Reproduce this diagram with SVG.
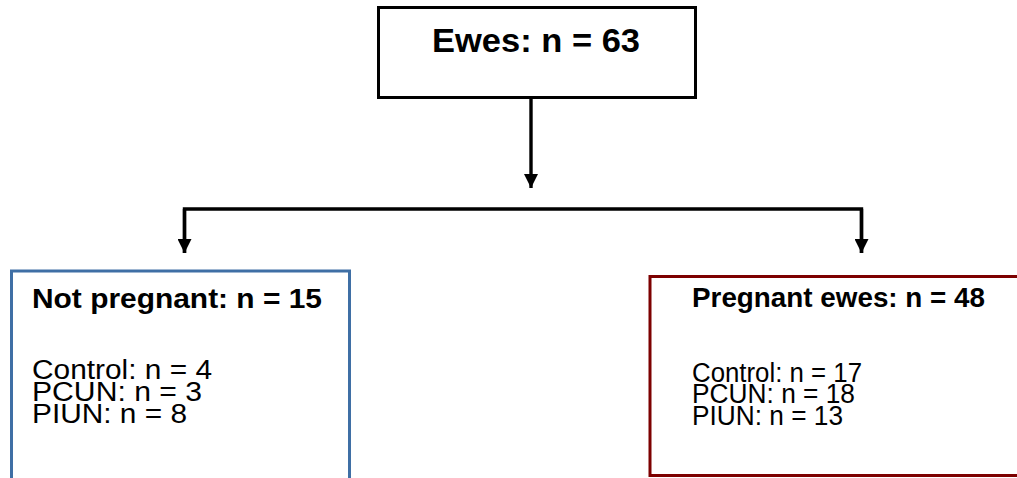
<svg xmlns="http://www.w3.org/2000/svg" width="1017" height="478" viewBox="0 0 1017 478">
  <style>
    .bg { fill: #ffffff; }
    .box { fill: #ffffff; stroke-width: 3; }
    .top { stroke: #000000; }
    .blue { stroke: #3f6fa5; }
    .red { stroke: #7d0000; }
    .title { font-family: "Liberation Sans", Arial, sans-serif; font-weight: bold; fill: #000000; }
    .body { font-family: "Liberation Sans", Arial, sans-serif; font-size: 27px; fill: #000000; }
    .conn { fill: none; stroke: #000000; stroke-width: 3.4; }
  </style>
  <defs>
    <marker id="arrow" viewBox="0 0 14 14" refX="14" refY="7" markerWidth="14" markerHeight="14" markerUnits="userSpaceOnUse" orient="auto">
      <path d="M0,0 L14,7 L0,14 Z" fill="#000000"/>
    </marker>
  </defs>

  <rect class="bg" x="0" y="0" width="1017" height="478"/>

  <g id="connectors">
    <path class="conn" d="M531,97 L531,188" marker-end="url(#arrow)"/>
    <path class="conn" d="M184.5,253 L184.5,209 L861.5,209 L861.5,253"/>
    <path class="conn" d="M184.5,209 L184.5,253" marker-end="url(#arrow)"/>
    <path class="conn" d="M861.5,209 L861.5,253" marker-end="url(#arrow)"/>
  </g>

  <g id="ewes">
    <rect class="box top" x="378.5" y="7.5" width="317" height="90"/>
    <text class="title" x="536" y="52" font-size="33" text-anchor="middle" textLength="208" lengthAdjust="spacingAndGlyphs">Ewes: n = 63</text>
  </g>

  <g id="not-pregnant">
    <rect class="box blue" x="11.5" y="271" width="338" height="220"/>
    <text class="title" x="32" y="308" font-size="28" textLength="290" lengthAdjust="spacingAndGlyphs">Not pregnant: n = 15</text>
    <text class="body" x="32" y="379" textLength="180" lengthAdjust="spacingAndGlyphs">Control: n = 4</text>
    <text class="body" x="32" y="401" textLength="170" lengthAdjust="spacingAndGlyphs">PCUN: n = 3</text>
    <text class="body" x="32" y="423" textLength="155" lengthAdjust="spacingAndGlyphs">PIUN: n = 8</text>
  </g>

  <g id="pregnant">
    <rect class="box red" x="650" y="276.5" width="400" height="199"/>
    <text class="title" x="692" y="307" font-size="28" textLength="293" lengthAdjust="spacingAndGlyphs">Pregnant ewes: n = 48</text>
    <text class="body" x="692" y="382" textLength="170" lengthAdjust="spacingAndGlyphs">Control: n = 17</text>
    <text class="body" x="692" y="403" textLength="163" lengthAdjust="spacingAndGlyphs">PCUN: n = 18</text>
    <text class="body" x="692" y="425" textLength="151" lengthAdjust="spacingAndGlyphs">PIUN: n = 13</text>
  </g>
</svg>
